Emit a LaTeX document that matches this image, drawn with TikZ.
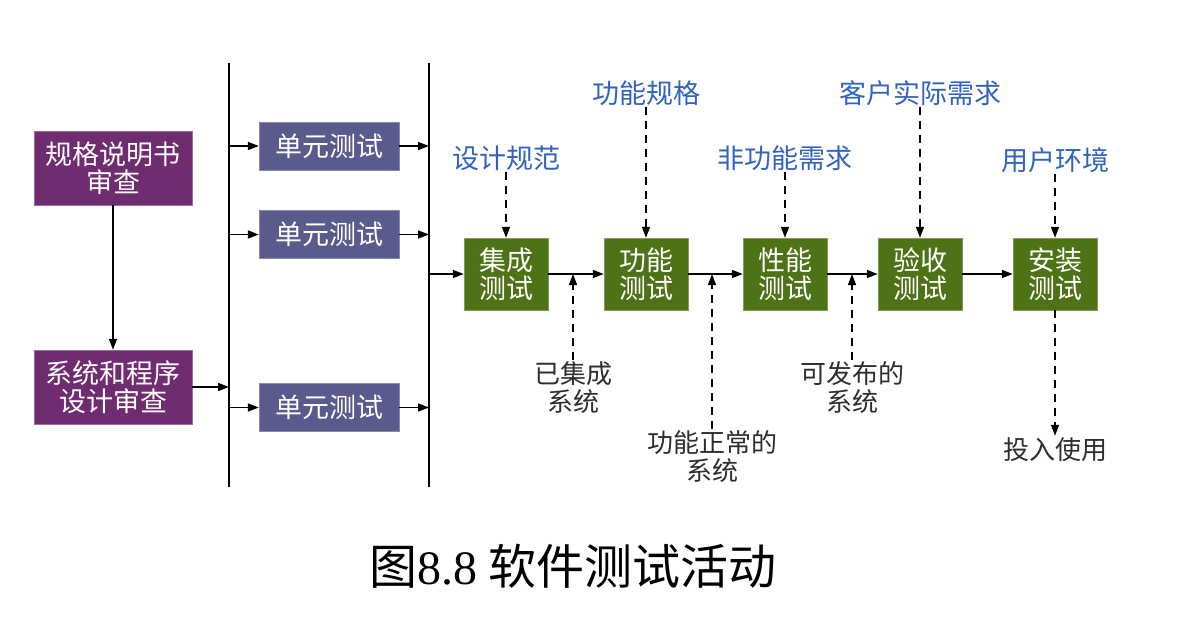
\documentclass[tikz,border=0pt]{standalone}
\usepackage{fontspec}
\setmainfont{Noto Sans CJK SC}
\newfontfamily\numfont{Liberation Serif}
\usetikzlibrary{arrows.meta,positioning}
\definecolor{reviewpurple}{RGB}{112,44,112}
\definecolor{unitblue}{RGB}{90,90,140}
\definecolor{testgreen}{RGB}{78,114,22}
\definecolor{inputblue}{RGB}{48,98,192}
\definecolor{labelgray}{RGB}{45,45,45}
\begin{document}
\begin{tikzpicture}[x=1pt,y=-1pt,
    boxtext/.style={font=\fontsize{27}{28}\selectfont, text=white, align=center, inner sep=0pt},
    reviewbox/.style={boxtext, fill=reviewpurple, draw=reviewpurple!70!white, minimum width=158pt, minimum height=74pt},
    unitbox/.style={boxtext, fill=unitblue, draw=unitblue!70!white, minimum width=140pt, minimum height=48pt},
    testbox/.style={boxtext, fill=testgreen, draw=testgreen!70!white, minimum width=84pt, minimum height=72pt},
    inputlabel/.style={font=\fontsize{27}{28}\selectfont, text=inputblue, inner sep=1pt},
    outlabel/.style={font=\fontsize{26}{28}\selectfont, text=labelgray, align=center, inner sep=2pt},
    flow/.style={line width=1.5pt, -{Triangle[length=11pt,width=8pt]}},
    dashflow/.style={flow, dash pattern=on 8pt off 6pt},
    bar/.style={line width=2.2pt}]
  \useasboundingbox (0,0) rectangle (1177,616);
  % Reviews
  \node[reviewbox] (spec) at (113,168) {规格说明书\\审查};
  \node[reviewbox] (design) at (113,387) {系统和程序\\设计审查};
  \draw[flow] (spec) -- (design);
  % Bars
  \coordinate (barAtop) at (229,63);
  \coordinate (barAbot) at (229,487);
  \coordinate (barBtop) at (429,63);
  \coordinate (barBbot) at (429,487);
  \draw[bar] (barAtop) -- (barAbot);
  \draw[bar] (barBtop) -- (barBbot);
  \draw[flow] (design.east) -- (design.east -| barAtop);
  % Unit tests
  \node[unitbox] (unitA) at (329,146) {单元测试};
  \node[unitbox] (unitB) at (329,234.5) {单元测试};
  \node[unitbox] (unitC) at (329,407.5) {单元测试};
  \foreach \u in {unitA,unitB,unitC} {
    \draw[flow] (\u.west -| barAtop) -- (\u.west);
    \draw[flow] (\u.east) -- (\u.east -| barBtop);
  }
  % Test chain
  \node[testbox] (integ) at (506,274) {集成\\测试};
  \node[testbox] (func) at (646,274) {功能\\测试};
  \node[testbox] (perf) at (785,274) {性能\\测试};
  \node[testbox] (accept) at (920,274) {验收\\测试};
  \node[testbox] (install) at (1055,274) {安装\\测试};
  \draw[flow] (integ.west -| barBtop) -- (integ.west);
  \draw[flow] (integ) -- (func);
  \draw[flow] (func) -- (perf);
  \draw[flow] (perf) -- (accept);
  \draw[flow] (accept) -- (install);
  % Inputs
  \node[inputlabel] (designspec) at (506,158) {设计规范};
  \node[inputlabel] (funcspec) at (646,93) {功能规格};
  \node[inputlabel] (nonfunc) at (785,158) {非功能需求};
  \node[inputlabel] (custreq) at (920,93) {客户实际需求};
  \node[inputlabel] (userenv) at (1055,160) {用户环境};
  \draw[dashflow] (designspec) -- (integ);
  \draw[dashflow] (funcspec) -- (func);
  \draw[dashflow] (nonfunc) -- (perf);
  \draw[dashflow] (custreq) -- (accept);
  \draw[dashflow] (userenv) -- (install);
  % Outputs
  \node[outlabel] (integsys) at (573,388) {已集成\\系统};
  \node[outlabel] (worksys) at (712,457) {功能正常的\\系统};
  \node[outlabel] (relsys) at (852,388) {可发布的\\系统};
  \node[outlabel] (inuse) at (1055,450) {投入使用};
  \draw[dashflow] (integsys.north) -- (integsys.north |- integ.east);
  \draw[dashflow] (worksys.north) -- (worksys.north |- func.east);
  \draw[dashflow] (relsys.north) -- (relsys.north |- perf.east);
  \draw[dashflow] (install) -- (inuse);
  % Caption
  \node[font=\fontsize{48}{50}\selectfont, text=black] (caption) at (573,566) {图{\numfont 8.8} 软件测试活动};
\end{tikzpicture}
\end{document}
